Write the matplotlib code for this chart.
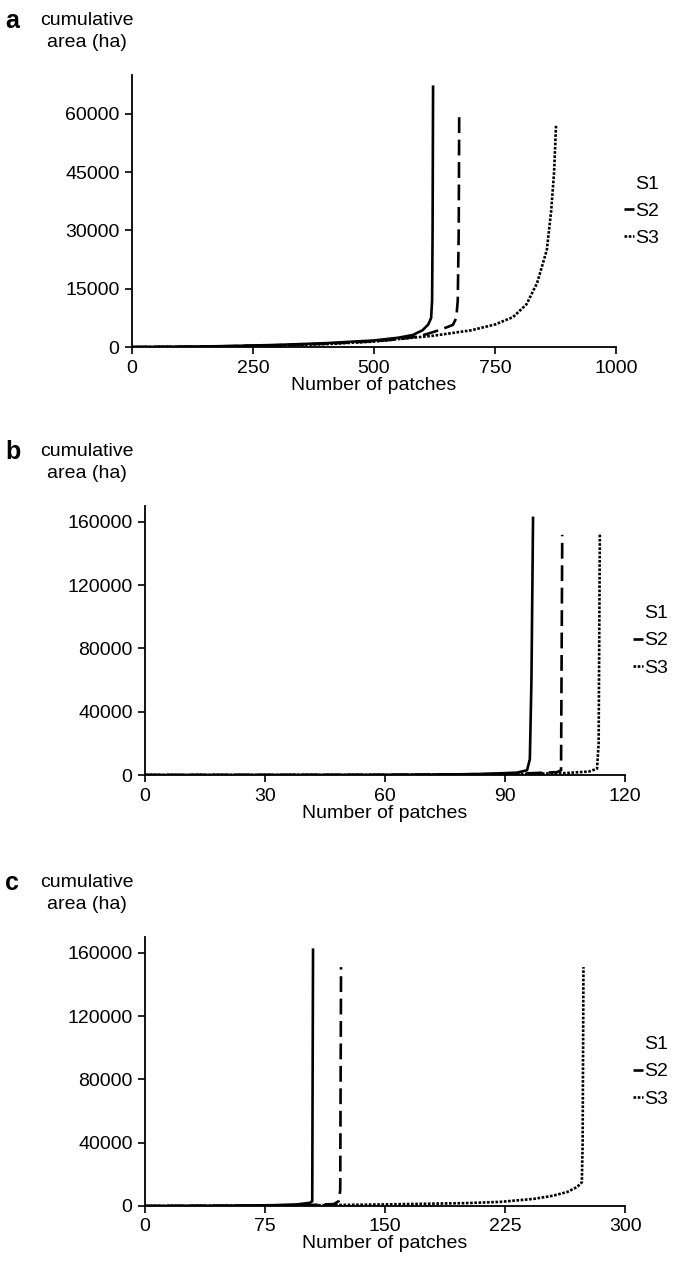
import matplotlib.pyplot as plt

plt.rcParams['font.family'] = ['Liberation Sans', 'DejaVu Sans']
plt.rcParams['font.size'] = 14

# panel a
a_s1_x = [0, 100, 200, 300, 400, 500, 550, 580, 600, 612, 618, 620, 621, 622]
a_s1_y = [0, 80, 250, 550, 1000, 1700, 2400, 3100, 4300, 5800, 7500, 12000, 30000, 67000]
a_s2_x = [0, 100, 200, 300, 400, 500, 550, 595, 636, 663, 670, 673, 675, 676]
a_s2_y = [0, 80, 230, 480, 850, 1500, 2000, 2800, 4400, 5700, 7500, 12000, 30000, 59500]
a_s3_x = [0, 100, 200, 300, 400, 500, 554, 622, 700, 750, 787, 815, 837, 857, 866, 872, 876]
a_s3_y = [0, 60, 180, 400, 750, 1400, 2100, 2900, 4300, 5800, 7700, 11000, 16500, 25000, 35000, 45000, 57000]

# panel b
b_s1_x = [0, 30, 60, 75, 85, 93, 95.5, 96.2, 96.6, 97]
b_s1_y = [0, 20, 100, 300, 700, 1500, 3000, 10000, 60000, 162500]
b_s2_x = [0, 60, 80, 95, 103, 104, 104.3]
b_s2_y = [0, 80, 400, 1000, 1800, 3000, 151800]
b_s3_x = [0, 60, 90, 105, 111, 113, 113.4, 113.7]
b_s3_y = [0, 60, 400, 1200, 2200, 4000, 20000, 153000]

# panel c
c_s1_x = [0, 50, 80, 95, 103, 104.5, 105]
c_s1_y = [0, 200, 500, 1000, 2000, 3000, 162000]
c_s2_x = [0, 60, 100, 118, 121, 122, 122.5]
c_s2_y = [0, 150, 500, 1200, 3000, 10000, 151000]
c_s3_x = [0, 50, 100, 150, 200, 222, 243, 255, 264, 270, 273, 273.5, 274]
c_s3_y = [0, 100, 400, 1000, 1800, 2600, 4500, 6500, 8900, 12000, 15000, 40000, 151000]

labels = ['S1', 'S2', 'S3']
styles = ['-', (0, (6, 2.5)), (0, (1, 0.6))]

panels = [
    ('a', [0.1947, 0.7263, 0.7139, 0.2145], (0, 1000), [0, 250, 500, 750, 1000],
     (0, 70000), [0, 15000, 30000, 45000, 60000],
     [(a_s1_x, a_s1_y), (a_s2_x, a_s2_y), (a_s3_x, a_s3_y)]),
    ('b', [0.2139, 0.3888, 0.708, 0.2121], (0, 120), [0, 30, 60, 90, 120],
     (0, 170000), [0, 40000, 80000, 120000, 160000],
     [(b_s1_x, b_s1_y), (b_s2_x, b_s2_y), (b_s3_x, b_s3_y)]),
    ('c', [0.2139, 0.0489, 0.708, 0.2121], (0, 300), [0, 75, 150, 225, 300],
     (0, 170000), [0, 40000, 80000, 120000, 160000],
     [(c_s1_x, c_s1_y), (c_s2_x, c_s2_y), (c_s3_x, c_s3_y)]),
]

fig = plt.figure(figsize=(6.78, 12.68), dpi=100)

for letter, pos, xlim, xticks, ylim, yticks, series in panels:
    ax = fig.add_axes(pos)
    for (x, y), ls, lab in zip(series, styles, labels):
        ax.plot(x, y, color='black', linestyle=ls, linewidth=1.9, label=lab)
    ax.set_xlim(xlim)
    ax.set_ylim(ylim)
    ax.set_xticks(xticks)
    ax.set_yticks(yticks)
    ax.spines['top'].set_visible(False)
    ax.spines['right'].set_visible(False)
    ax.spines['left'].set_linewidth(1.3)
    ax.spines['bottom'].set_linewidth(1.3)
    ax.tick_params(direction='out', length=5, width=1.2, labelsize=14, pad=4)
    ax.set_xlabel('Number of patches', fontsize=14, labelpad=0)
    leg = ax.legend(loc='center left', bbox_to_anchor=(0.98, 0.5), frameon=False,
                    handlelength=0.5, handletextpad=0.1, labelspacing=0.5, fontsize=14)
    leg.legend_handles[0].set_visible(False)
    # panel letter and y label above the axis
    top = pos[1] + pos[3]
    fig.text(0.008, top + 0.043, letter, fontsize=18, fontweight='bold', va='center')
    fig.text(0.128, top + 0.043, 'cumulative', fontsize=14, ha='center', va='center')
    fig.text(0.128, top + 0.026, 'area (ha)', fontsize=14, ha='center', va='center')

plt.savefig('out.png', dpi=100)
